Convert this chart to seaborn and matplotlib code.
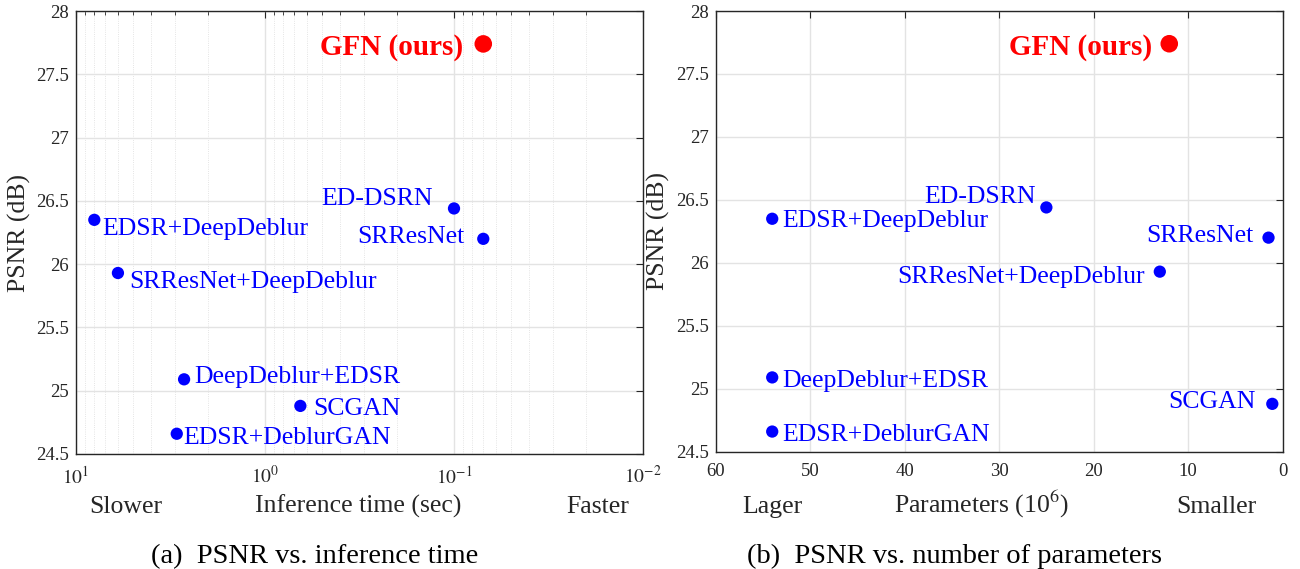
import numpy as np
import pandas as pd
import matplotlib
matplotlib.use("Agg")
import matplotlib.pyplot as plt
import seaborn as sns
from matplotlib.ticker import LogLocator, NullFormatter, FixedLocator

# ---------------- data ----------------
methods = ["EDSR+DeepDeblur", "SRResNet+DeepDeblur", "DeepDeblur+EDSR", "SCGAN",
           "EDSR+DeblurGAN", "ED-DSRN", "SRResNet", "GFN (ours)"]
psnr = [26.35, 25.93, 25.09, 24.88, 24.66, 26.44, 26.20, 27.74]
inference_time = [8.0, 6.0, 2.68, 0.65, 2.93, 0.100, 0.070, 0.070]   # seconds
parameters = [54, 13, 54, 1.1, 54, 25, 1.5, 12]                     # 10^6
group = ["other"] * 7 + ["ours"]

y_ticks = [24.5, 25, 25.5, 26, 26.5, 27, 27.5, 28]
y_tick_labels = ["24.5", "25", "25.5", "26", "26.5", "27", "27.5", "28"]
param_ticks = [60, 50, 40, 30, 20, 10, 0]

# label offsets in pixels (dx, dy, ha) -- styling only
offsets_time = {
    "EDSR+DeepDeblur": (8, -15, "left"),
    "SRResNet+DeepDeblur": (11, -15, "left"),
    "DeepDeblur+EDSR": (10, -4, "left"),
    "SCGAN": (13, -9, "left"),
    "EDSR+DeblurGAN": (7, -10, "left"),
    "ED-DSRN": (-21, 3, "right"),
    "SRResNet": (-19, -4, "right"),
    "GFN (ours)": (-20, -11, "right"),
}
offsets_param = {
    "EDSR+DeepDeblur": (10, -8, "left"),
    "SRResNet+DeepDeblur": (-15, -11, "right"),
    "DeepDeblur+EDSR": (10, -10, "left"),
    "SCGAN": (-17, -4, "right"),
    "EDSR+DeblurGAN": (10, -9, "left"),
    "ED-DSRN": (-11, 4, "right"),
    "SRResNet": (-15, -4, "right"),
    "GFN (ours)": (-17, -11, "right"),
}

df = pd.DataFrame({"method": methods, "psnr": psnr, "time": inference_time,
                   "params": parameters, "group": group})

# ---------------- style ----------------
sns.set_style("white")
plt.rcParams["font.family"] = ["Liberation Serif", "DejaVu Serif"]
plt.rcParams["mathtext.fontset"] = "stix"

BLUE = "#0000ff"
RED = "#ff0000"
DARK = "#262626"
GRID = "#e3e3e3"

fig = plt.figure(figsize=(13, 5.69), dpi=100)
ax1 = fig.add_axes([76 / 1300, 1 - 454 / 569, 567 / 1300, 443 / 569])
ax2 = fig.add_axes([715.5 / 1300, 1 - 451.7 / 569, 567.2 / 1300, 440.7 / 569])

palette = {"other": BLUE, "ours": RED}
sizes = {"other": 78, "ours": 160}


def style_axes(ax):
    for s in ax.spines.values():
        s.set_color(DARK)
        s.set_linewidth(1.0)
    ax.set_ylim(24.5, 28)
    ax.yaxis.set_major_locator(FixedLocator(y_ticks))
    ax.set_yticklabels(y_tick_labels)
    ax.tick_params(axis="both", which="major", direction="in", length=5, width=0.8,
                   colors=DARK, labelsize=13.5, top=True, right=True)
    ax.tick_params(axis="y", which="major", pad=5)
    ax.tick_params(axis="x", which="major", pad=8)
    ax.set_xlabel("")
    ax.set_ylabel("PSNR (dB)", fontsize=18.5, color=DARK, labelpad=4)
    ax.set_axisbelow(True)


def annotate(ax, xcol, offsets):
    for _, r in df.iterrows():
        dx, dy, ha = offsets[r["method"]]
        ours = r["group"] == "ours"
        ax.annotate(r["method"], (r[xcol], r["psnr"]), xytext=(dx, dy),
                    textcoords="offset pixels", ha=ha, va="baseline",
                    color=RED if ours else BLUE,
                    fontsize=21 if ours else 18.5,
                    fontweight="bold" if ours else "normal")


# ---------- (a) PSNR vs inference time ----------
sns.scatterplot(data=df, x="time", y="psnr", hue="group", palette=palette,
                size="group", sizes=sizes, edgecolor="none", legend=False,
                ax=ax1, zorder=3)
ax1.set_xscale("log")
ax1.set_xlim(10, 0.01)
ax1.xaxis.set_major_locator(FixedLocator([10, 1, 0.1, 0.01]))
ax1.set_xticklabels([r"$10^{1}$", r"$10^{0}$", r"$10^{-1}$", r"$10^{-2}$"])
ax1.xaxis.set_minor_locator(LogLocator(base=10, subs=np.arange(2, 10), numticks=20))
ax1.xaxis.set_minor_formatter(NullFormatter())
style_axes(ax1)
ax1.tick_params(axis="x", which="minor", direction="in", length=3, width=0.6,
                colors=DARK, top=True)
ax1.tick_params(axis="x", which="major", pad=8, labelsize=14)
ax1.grid(True, which="major", axis="both", color=GRID, linewidth=1.0)
ax1.grid(True, which="minor", axis="x", color="#dcdcdc", linewidth=0.6, linestyle=":")
annotate(ax1, "time", offsets_time)

# ---------- (b) PSNR vs number of parameters ----------
sns.scatterplot(data=df, x="params", y="psnr", hue="group", palette=palette,
                size="group", sizes=sizes, edgecolor="none", legend=False,
                ax=ax2, zorder=3)
ax2.set_xlim(60, 0)
ax2.xaxis.set_major_locator(FixedLocator(param_ticks))
ax2.set_xticklabels([str(t) for t in param_ticks])
style_axes(ax2)
ax2.grid(True, which="major", axis="both", color=GRID, linewidth=1.0)
annotate(ax2, "params", offsets_param)

# ---------- texts below axes ----------
def fig_text(xpx, ypx, s, size=18.5, color=DARK):
    fig.text(xpx / 1300, 1 - ypx / 569, s, ha="center", va="baseline",
             fontsize=size, color=color)

fig_text(125.7, 513, "Slower")
fig_text(358.5, 513, "Inference time (sec)")
fig_text(598, 513, "Faster")
fig_text(772, 513, "Lager")
fig_text(982, 513, r"Parameters (10$^{6}$)")
fig_text(1216, 513, "Smaller")

fig_text(314.5, 563, "(a)  PSNR vs. inference time", size=20.5, color="black")
fig_text(954.5, 563, "(b)  PSNR vs. number of parameters", size=20.5, color="black")

fig.savefig("out.png", dpi=100, facecolor="white")
